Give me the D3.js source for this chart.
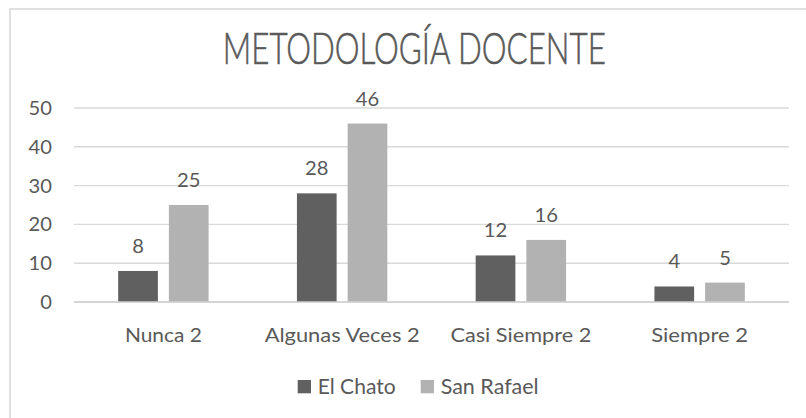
<!DOCTYPE html>
<html>
<head>
<meta charset="utf-8">
<script src="https://cdn.jsdelivr.net/npm/d3@7"></script>
<style>
  html, body { margin: 0; padding: 0; background: #fff; }
  svg { display: block; }
  text { font-family: Lato, "Open Sans", sans-serif; fill: #595959; }
</style>
</head>
<body>
<svg id="chart" width="806" height="418"></svg>
<script>
const title = "METODOLOGÍA DOCENTE";
const categories = ["Nunca 2", "Algunas Veces 2", "Casi Siempre 2", "Siempre 2"];
const seriesNames = ["El Chato", "San Rafael"];
const elChato = [8, 28, 12, 4];
const sanRafael = [25, 46, 16, 5];
const yTicks = [0, 10, 20, 30, 40, 50];
const colors = ["#606060", "#b2b2b2"];

// measured text widths (for matching the reference's condensed font)
const catWidths = [77, 155, 141, 97];
const legendWidths = [78, 98];

const svg = d3.select("#chart");

// chart frame
svg.append("rect")
  .attr("x", 10).attr("y", 9)
  .attr("width", 830).attr("height", 430)
  .attr("fill", "#fff")
  .attr("stroke", "#d9d9d9")
  .attr("stroke-width", 1.6);

const plot = { left: 74, right: 789, top: 108, bottom: 302 };

const x0 = d3.scaleBand().domain(categories).range([plot.left, plot.right]).padding(0);
const groupW = 90.4;
const x1 = d3.scaleBand().domain(seriesNames)
  .range([(x0.bandwidth() - groupW) / 2, (x0.bandwidth() + groupW) / 2])
  .paddingInner(11 / 50.7).paddingOuter(0);
const y = d3.scaleLinear().domain([0, 50]).range([plot.bottom, plot.top]);

// gridlines
svg.append("g").selectAll("line")
  .data(yTicks)
  .join("line")
  .attr("x1", plot.left).attr("x2", plot.right)
  .attr("y1", d => y(d)).attr("y2", d => y(d))
  .attr("stroke", "#d9d9d9")
  .attr("stroke-width", 1.4);

// y tick labels
svg.append("g").selectAll("text")
  .data(yTicks)
  .join("text")
  .attr("x", 52)
  .attr("y", d => y(d) + 7)
  .attr("text-anchor", "end")
  .attr("font-size", 19.5)
  .attr("textLength", d => String(d).length * 11.7)
  .attr("lengthAdjust", "spacingAndGlyphs")
  .text(d => d);

// bars
const seriesData = [elChato, sanRafael];
const rows = [];
categories.forEach((c, i) => {
  seriesNames.forEach((s, j) => rows.push({ cat: c, ser: s, j, v: seriesData[j][i] }));
});

svg.append("g").selectAll("rect")
  .data(rows)
  .join("rect")
  .attr("x", d => x0(d.cat) + x1(d.ser))
  .attr("y", d => y(d.v))
  .attr("width", x1.bandwidth())
  .attr("height", d => y(0) - y(d.v))
  .attr("fill", d => colors[d.j]);

// data labels
svg.append("g").selectAll("text")
  .data(rows)
  .join("text")
  .attr("x", d => x0(d.cat) + x1(d.ser) + x1.bandwidth() / 2)
  .attr("y", d => y(d.v) - 18)
  .attr("text-anchor", "middle")
  .attr("font-size", 19.5)
  .attr("textLength", d => String(d.v).length * 11.7)
  .attr("lengthAdjust", "spacingAndGlyphs")
  .text(d => d.v);

// axis line
svg.append("line")
  .attr("x1", plot.left).attr("x2", plot.right)
  .attr("y1", y(0)).attr("y2", y(0))
  .attr("stroke", "#d0d0d0").attr("stroke-width", 1.4);

// category labels
svg.append("g").selectAll("text")
  .data(categories)
  .join("text")
  .attr("x", d => x0(d) + x0.bandwidth() / 2)
  .attr("y", 341.7)
  .attr("text-anchor", "middle")
  .attr("font-size", 19.5)
  .attr("textLength", (d, i) => catWidths[i])
  .attr("lengthAdjust", "spacingAndGlyphs")
  .text(d => d);

// title
svg.append("text")
  .attr("x", 414.3)
  .attr("y", 64)
  .attr("text-anchor", "middle")
  .attr("font-size", 42.5)
  .attr("font-weight", 300)
  .attr("stroke", "#595959")
  .attr("stroke-width", 0.6)
  .attr("textLength", 383)
  .attr("lengthAdjust", "spacingAndGlyphs")
  .text(title);

// legend
const legendX = [297.7, 420.7];
const lg = svg.append("g").selectAll("g")
  .data(seriesNames)
  .join("g");
lg.append("rect")
  .attr("x", (d, i) => legendX[i])
  .attr("y", 380)
  .attr("width", 13.3).attr("height", 13.3)
  .attr("fill", (d, i) => colors[i]);
lg.append("text")
  .attr("x", (d, i) => legendX[i] + 20)
  .attr("y", 394.3)
  .attr("font-size", 20.5)
  .attr("textLength", (d, i) => legendWidths[i])
  .attr("lengthAdjust", "spacingAndGlyphs")
  .text(d => d);
</script>
</body>
</html>
